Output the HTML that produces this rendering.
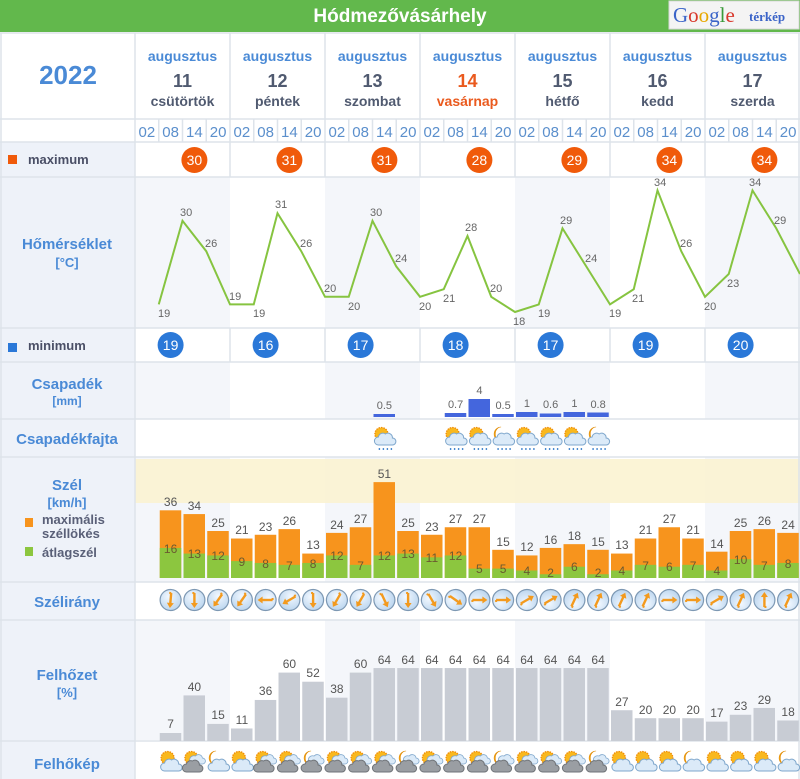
<!DOCTYPE html>
<html><head><meta charset="utf-8"><style>
html,body{margin:0;padding:0;background:#fff}
svg{display:block;font-family:"Liberation Sans",sans-serif}
</style></head><body>
<svg width="800" height="779" viewBox="0 0 800 779" xmlns="http://www.w3.org/2000/svg">
<defs>
<symbol id="sun" viewBox="-11 -11 22 22" overflow="visible"><circle cx="-3" cy="-4" r="6.5" fill="#f9b81e" stroke="#ef8c07" stroke-width="1.3" stroke-dasharray="1.5 1"/></symbol>
<g id="sunc"><circle cx="-3" cy="-4" r="6.5" fill="#f9b81e" stroke="#ef8c07" stroke-width="1.3" stroke-dasharray="1.5 1"/></g>
<g id="moon"><path d="M-2,-11 A7,7 0 1 0 -2,3 A5,6 0 0 1 -2,-11Z" fill="#f5a81c" stroke="#e08a00" stroke-width="0.6"/></g>
<g id="wcloud"><path d="M-6,9 h14 a3.5,3.5 0 0 0 0,-7 a4.5,4.5 0 0 0 -7,-4 a4.5,4.5 0 0 0 -7,3 a4,4 0 0 0 0,8z" fill="#dbeaf8" stroke="#7fa7cc" stroke-width="1"/></g>
<g id="dcloud"><path d="M-2,2 h10 a3,3 0 0 0 0,-6 a4,4 0 0 0 -7,-2 a3,3 0 0 0 -3,8z" fill="#dbeaf8" stroke="#7fa7cc" stroke-width="0.8"/><path d="M-8,10 h13 a3.5,3.5 0 0 0 0,-7 a4.5,4.5 0 0 0 -7,-4 a4.5,4.5 0 0 0 -6,3 a4,4 0 0 0 0,8z" fill="#9a9ea3" stroke="#6f7378" stroke-width="1"/></g>
<g id="rain"><path d="M-5,11 v2 M-1,11 v2 M3,11 v2 M7,11 v2" stroke="#4a8ad0" stroke-width="1.4"/></g>
<g id="S"><use href="#sunc"/><use href="#wcloud"/></g>
<g id="SD"><use href="#sunc"/><use href="#dcloud"/></g>
<g id="M"><use href="#moon"/><use href="#wcloud"/></g>
<g id="MD"><use href="#moon"/><use href="#dcloud"/></g>
<g id="SR"><use href="#sunc"/><use href="#wcloud" transform="translate(0,-2)"/><use href="#rain" transform="translate(0,-1)"/></g>
<g id="MR"><use href="#moon"/><use href="#wcloud" transform="translate(0,-2)"/><use href="#rain" transform="translate(0,-1)"/></g>
<radialGradient id="wg" cx="0.4" cy="0.35" r="0.7"><stop offset="0" stop-color="#f2f8ff"/><stop offset="1" stop-color="#b9d4ee"/></radialGradient>
<g id="wd"><circle r="10.5" fill="url(#wg)" stroke="#7d98b3" stroke-width="1.2"/><path d="M0,-7 V5" stroke="#f39a1e" stroke-width="2.4"/><path d="M-3.5,3 L0,8 L3.5,3Z" fill="#f39a1e"/><path d="M-2,-7 h2" stroke="#f39a1e" stroke-width="2"/></g>
</defs>

<!-- title -->
<rect x="0" y="0" width="800" height="32" fill="#62b84c"/>
<text x="400" y="22" font-size="19" font-weight="bold" fill="#fff" text-anchor="middle">Hódmezővásárhely</text>
<rect x="669" y="1" width="130" height="28" fill="#f4f4f4" stroke="#d8d8d8"/>
<text x="673" y="22" font-family="Liberation Serif,serif" font-size="21"><tspan fill="#3b64c8">G</tspan><tspan fill="#d8382c">o</tspan><tspan fill="#e8a800">o</tspan><tspan fill="#3b64c8">g</tspan><tspan fill="#3a9a3a">l</tspan><tspan fill="#d8382c">e</tspan></text>
<text x="749" y="21" font-family="Liberation Serif,serif" font-size="13" font-weight="bold" fill="#3b64c8">térkép</text>

<!-- left column bg -->
<rect x="0" y="142" width="135" height="637" fill="#eef2f9"/>
<!-- shaded day columns -->
<g fill="#f4f6fa">
<rect x="135" y="177" width="95" height="151"/><rect x="325" y="177" width="95" height="151"/><rect x="515" y="177" width="95" height="151"/><rect x="705" y="177" width="95" height="151"/>
<rect x="135" y="362" width="95" height="57"/><rect x="325" y="362" width="95" height="57"/><rect x="515" y="362" width="95" height="57"/><rect x="705" y="362" width="95" height="57"/>
<rect x="135" y="457" width="95" height="125"/><rect x="325" y="457" width="95" height="125"/><rect x="515" y="457" width="95" height="125"/><rect x="705" y="457" width="95" height="125"/>
<rect x="135" y="620" width="95" height="120"/><rect x="325" y="620" width="95" height="120"/><rect x="515" y="620" width="95" height="120"/><rect x="705" y="620" width="95" height="120"/>
</g>
<rect x="135" y="459" width="665" height="44" fill="#faf2cf" opacity="0.85"/>

<!-- grid lines -->
<g stroke="#dde3ea" stroke-width="1.5">
<path d="M0,33H800M0,119H800M0,142H800M0,177H800M0,328H800M0,362H800M0,419H800M0,457H800M0,582H800M0,620H800M0,741H800"/>
<path d="M1,33V779M135,33V779M230,33V177M325,33V177M420,33V177M515,33V177M610,33V177M705,33V177M799,33V779"/>
<path d="M230,328V362M325,328V362M420,328V362M515,328V362M610,328V362M705,328V362"/>
<path d="M158.75,119V142M182.5,119V142M206.25,119V142M253.75,119V142M277.5,119V142M301.25,119V142M348.75,119V142M372.5,119V142M396.25,119V142M443.75,119V142M467.5,119V142M491.25,119V142M538.75,119V142M562.5,119V142M586.25,119V142M633.75,119V142M657.5,119V142M681.25,119V142M728.75,119V142M752.5,119V142M776.25,119V142"/>
</g>

<!-- header -->
<text x="68" y="84" font-size="26" font-weight="bold" fill="#4a8ad6" text-anchor="middle">2022</text>
<g font-weight="bold" text-anchor="middle">
<g font-size="14" fill="#4a8ad6">
<text x="182.5" y="61">augusztus</text><text x="277.5" y="61">augusztus</text><text x="372.5" y="61">augusztus</text><text x="467.5" y="61">augusztus</text><text x="562.5" y="61">augusztus</text><text x="657.5" y="61">augusztus</text><text x="752.5" y="61">augusztus</text>
</g>
<g font-size="18" fill="#505a70">
<text x="182.5" y="87">11</text><text x="277.5" y="87">12</text><text x="372.5" y="87">13</text><text x="467.5" y="87" fill="#ea5a1e">14</text><text x="562.5" y="87">15</text><text x="657.5" y="87">16</text><text x="752.5" y="87">17</text>
</g>
<g font-size="14" fill="#505a70">
<text x="182.5" y="106">csütörtök</text><text x="277.5" y="106">péntek</text><text x="372.5" y="106">szombat</text><text x="467.5" y="106" fill="#ea5a1e">vasárnap</text><text x="562.5" y="106">hétfő</text><text x="657.5" y="106">kedd</text><text x="752.5" y="106">szerda</text>
</g>
</g>
<g font-size="15" fill="#5b8fcc" text-anchor="middle">
<text x="146.9" y="137">02</text><text x="170.6" y="137">08</text><text x="194.4" y="137">14</text><text x="218.1" y="137">20</text>
<text x="241.9" y="137">02</text><text x="265.6" y="137">08</text><text x="289.4" y="137">14</text><text x="313.1" y="137">20</text>
<text x="336.9" y="137">02</text><text x="360.6" y="137">08</text><text x="384.4" y="137">14</text><text x="408.1" y="137">20</text>
<text x="431.9" y="137">02</text><text x="455.6" y="137">08</text><text x="479.4" y="137">14</text><text x="503.1" y="137">20</text>
<text x="526.9" y="137">02</text><text x="550.6" y="137">08</text><text x="574.4" y="137">14</text><text x="598.1" y="137">20</text>
<text x="621.9" y="137">02</text><text x="645.6" y="137">08</text><text x="669.4" y="137">14</text><text x="693.1" y="137">20</text>
<text x="716.9" y="137">02</text><text x="740.6" y="137">08</text><text x="764.4" y="137">14</text><text x="788.1" y="137">20</text>
</g>

<!-- left labels -->
<rect x="8" y="155" width="9" height="9" fill="#f05a0a"/>
<text x="28" y="164" font-size="13" font-weight="bold" fill="#4a4f66">maximum</text>
<rect x="8" y="343" width="9" height="9" fill="#2a78d8"/>
<text x="28" y="350" font-size="13" font-weight="bold" fill="#4a4f66">minimum</text>
<g font-weight="bold" fill="#4a8ad6" text-anchor="middle">
<text x="67" y="249" font-size="15">Hőmérséklet</text><text x="67" y="267" font-size="13">[°C]</text>
<text x="67" y="389" font-size="15">Csapadék</text><text x="67" y="405" font-size="12">[mm]</text>
<text x="67" y="444" font-size="15">Csapadékfajta</text>
<text x="67" y="490" font-size="15">Szél</text><text x="67" y="507" font-size="13">[km/h]</text>
<text x="67" y="607" font-size="15">Szélirány</text>
<text x="67" y="680" font-size="15">Felhőzet</text><text x="67" y="697" font-size="13">[%]</text>
<text x="67" y="769" font-size="15">Felhőkép</text>
</g>
<rect x="25" y="518" width="8" height="9" fill="#f7941d"/>
<rect x="25" y="547" width="8" height="9" fill="#8cc63f"/>
<g font-size="13" font-weight="bold" fill="#5a6078">
<text x="42" y="524">maximális</text><text x="42" y="538">széllökés</text><text x="42" y="557">átlagszél</text>
</g>

<!-- max/min circles -->
<g fill="#f05a0a"><circle cx="194.4" cy="160" r="13"/><circle cx="289.4" cy="160" r="13"/><circle cx="384.4" cy="160" r="13"/><circle cx="479.4" cy="160" r="13"/><circle cx="574.4" cy="160" r="13"/><circle cx="669.4" cy="160" r="13"/><circle cx="764.4" cy="160" r="13"/></g>
<g fill="#2a78d8"><circle cx="170.6" cy="345" r="13"/><circle cx="265.6" cy="345" r="13"/><circle cx="360.6" cy="345" r="13"/><circle cx="455.6" cy="345" r="13"/><circle cx="550.6" cy="345" r="13"/><circle cx="645.6" cy="345" r="13"/><circle cx="740.6" cy="345" r="13"/></g>
<g font-size="14" fill="#fff" text-anchor="middle">
<text x="194.4" y="165">30</text><text x="289.4" y="165">31</text><text x="384.4" y="165">31</text><text x="479.4" y="165">28</text><text x="574.4" y="165">29</text><text x="669.4" y="165">34</text><text x="764.4" y="165">34</text>
<text x="170.6" y="350">19</text><text x="265.6" y="350">16</text><text x="360.6" y="350">17</text><text x="455.6" y="350">18</text><text x="550.6" y="350">17</text><text x="645.6" y="350">19</text><text x="740.6" y="350">20</text>
</g>

<!-- temperature line -->
<polyline fill="none" stroke="#86c440" stroke-width="2" points="158.75,304.4 182.5,220.8 206.25,251.2 230,304.4 253.75,304.4 277.5,213.2 301.25,251.2 325,296.8 348.75,296.8 372.5,220.8 396.25,266.4 420,296.8 443.75,289.2 467.5,236 491.25,296.8 515,312 538.75,304.4 562.5,228.4 586.25,266.4 610,304.4 633.75,289.2 657.5,190.4 681.25,251.2 705,296.8 728.75,274 752.5,190.4 776.25,228.4 800,274"/>
<g font-size="11" fill="#666">
<text x="158" y="317">19</text><text x="180" y="216">30</text><text x="205" y="247">26</text><text x="229" y="300">19</text><text x="253" y="317">19</text><text x="275" y="208">31</text><text x="300" y="247">26</text><text x="324" y="292">20</text><text x="348" y="310">20</text><text x="370" y="216">30</text><text x="395" y="262">24</text><text x="419" y="310">20</text><text x="443" y="302">21</text><text x="465" y="231">28</text><text x="490" y="292">20</text><text x="513" y="325">18</text><text x="538" y="317">19</text><text x="560" y="224">29</text><text x="585" y="262">24</text><text x="609" y="317">19</text><text x="632" y="302">21</text><text x="654" y="186">34</text><text x="680" y="247">26</text><text x="704" y="310">20</text><text x="727" y="287">23</text><text x="749" y="186">34</text><text x="774" y="224">29</text>
</g>

<!-- precipitation -->
<g fill="#4466dd">
<rect x="373.5" y="414" width="21.5" height="3"/>
<rect x="444.75" y="413" width="21.5" height="4"/>
<rect x="468.5" y="399" width="21.5" height="18"/>
<rect x="492.25" y="414" width="21.5" height="3"/>
<rect x="516" y="412" width="21.5" height="5"/>
<rect x="539.75" y="413.5" width="21.5" height="3.5"/>
<rect x="563.5" y="412" width="21.5" height="5"/>
<rect x="587.25" y="412.5" width="21.5" height="4.5"/>
</g>
<g font-size="11" fill="#666" text-anchor="middle">
<text x="384.4" y="409">0.5</text><text x="455.6" y="408">0.7</text><text x="479.4" y="394">4</text><text x="503.1" y="409">0.5</text><text x="526.9" y="407">1</text><text x="550.6" y="408">0.6</text><text x="574.4" y="407">1</text><text x="598.1" y="408">0.8</text>
</g>
<use href="#SR" x="384.4" y="438"/><use href="#SR" x="455.6" y="438"/><use href="#SR" x="479.4" y="438"/><use href="#MR" x="503.1" y="438"/><use href="#SR" x="526.9" y="438"/><use href="#SR" x="550.6" y="438"/><use href="#SR" x="574.4" y="438"/><use href="#MR" x="598.1" y="438"/>

<!-- wind bars -->
<g transform="translate(0,578) scale(1,-1.88)">
<g fill="#f7941d">
<rect x="159.75" y="0" width="21.5" height="36"/><rect x="183.5" y="0" width="21.5" height="34"/><rect x="207.25" y="0" width="21.5" height="25"/><rect x="231" y="0" width="21.5" height="21"/><rect x="254.75" y="0" width="21.5" height="23"/><rect x="278.5" y="0" width="21.5" height="26"/><rect x="302.25" y="0" width="21.5" height="13"/><rect x="326" y="0" width="21.5" height="24"/><rect x="349.75" y="0" width="21.5" height="27"/><rect x="373.5" y="0" width="21.5" height="51"/><rect x="397.25" y="0" width="21.5" height="25"/><rect x="421" y="0" width="21.5" height="23"/><rect x="444.75" y="0" width="21.5" height="27"/><rect x="468.5" y="0" width="21.5" height="27"/><rect x="492.25" y="0" width="21.5" height="15"/><rect x="516" y="0" width="21.5" height="12"/><rect x="539.75" y="0" width="21.5" height="16"/><rect x="563.5" y="0" width="21.5" height="18"/><rect x="587.25" y="0" width="21.5" height="15"/><rect x="611" y="0" width="21.5" height="13"/><rect x="634.75" y="0" width="21.5" height="21"/><rect x="658.5" y="0" width="21.5" height="27"/><rect x="682.25" y="0" width="21.5" height="21"/><rect x="706" y="0" width="21.5" height="14"/><rect x="729.75" y="0" width="21.5" height="25"/><rect x="753.5" y="0" width="21.5" height="26"/><rect x="777.25" y="0" width="21.5" height="24"/>
</g>
<g fill="#8cc63f">
<rect x="159.75" y="0" width="21.5" height="16"/><rect x="183.5" y="0" width="21.5" height="13"/><rect x="207.25" y="0" width="21.5" height="12"/><rect x="231" y="0" width="21.5" height="9"/><rect x="254.75" y="0" width="21.5" height="8"/><rect x="278.5" y="0" width="21.5" height="7"/><rect x="302.25" y="0" width="21.5" height="8"/><rect x="326" y="0" width="21.5" height="12"/><rect x="349.75" y="0" width="21.5" height="7"/><rect x="373.5" y="0" width="21.5" height="12"/><rect x="397.25" y="0" width="21.5" height="13"/><rect x="421" y="0" width="21.5" height="11"/><rect x="444.75" y="0" width="21.5" height="12"/><rect x="468.5" y="0" width="21.5" height="5"/><rect x="492.25" y="0" width="21.5" height="5"/><rect x="516" y="0" width="21.5" height="4"/><rect x="539.75" y="0" width="21.5" height="2"/><rect x="563.5" y="0" width="21.5" height="6"/><rect x="587.25" y="0" width="21.5" height="2"/><rect x="611" y="0" width="21.5" height="4"/><rect x="634.75" y="0" width="21.5" height="7"/><rect x="658.5" y="0" width="21.5" height="6"/><rect x="682.25" y="0" width="21.5" height="7"/><rect x="706" y="0" width="21.5" height="4"/><rect x="729.75" y="0" width="21.5" height="10"/><rect x="753.5" y="0" width="21.5" height="7"/><rect x="777.25" y="0" width="21.5" height="8"/>
</g>
</g>
<g font-size="12" fill="#555" text-anchor="middle">
<text x="170.6" y="506">36</text><text x="194.4" y="510">34</text><text x="218.1" y="527">25</text><text x="241.9" y="534">21</text><text x="265.6" y="531">23</text><text x="289.4" y="525">26</text><text x="313.1" y="549">13</text><text x="336.9" y="529">24</text><text x="360.6" y="523">27</text><text x="384.4" y="478">51</text><text x="408.1" y="527">25</text><text x="431.9" y="531">23</text><text x="455.6" y="523">27</text><text x="479.4" y="523">27</text><text x="503.1" y="546">15</text><text x="526.9" y="551">12</text><text x="550.6" y="544">16</text><text x="574.4" y="540">18</text><text x="598.1" y="546">15</text><text x="621.9" y="549">13</text><text x="645.6" y="534">21</text><text x="669.4" y="523">27</text><text x="693.1" y="534">21</text><text x="716.9" y="548">14</text><text x="740.6" y="527">25</text><text x="764.4" y="525">26</text><text x="788.1" y="529">24</text>
</g>
<g font-size="12" fill="#6a5a30" text-anchor="middle">
<text x="170.6" y="553">16</text><text x="194.4" y="558">13</text><text x="218.1" y="560">12</text><text x="241.9" y="566">9</text><text x="265.6" y="568">8</text><text x="289.4" y="570">7</text><text x="313.1" y="568">8</text><text x="336.9" y="560">12</text><text x="360.6" y="570">7</text><text x="384.4" y="560">12</text><text x="408.1" y="558">13</text><text x="431.9" y="562">11</text><text x="455.6" y="560">12</text><text x="479.4" y="573">5</text><text x="503.1" y="573">5</text><text x="526.9" y="575">4</text><text x="550.6" y="577">2</text><text x="574.4" y="571">6</text><text x="598.1" y="577">2</text><text x="621.9" y="575">4</text><text x="645.6" y="570">7</text><text x="669.4" y="571">6</text><text x="693.1" y="570">7</text><text x="716.9" y="575">4</text><text x="740.6" y="564">10</text><text x="764.4" y="570">7</text><text x="788.1" y="568">8</text>
</g>

<!-- wind direction -->
<use href="#wd" transform="translate(170.6,600) rotate(5)"/><use href="#wd" transform="translate(194.4,600) rotate(0)"/><use href="#wd" transform="translate(218.1,600) rotate(35)"/><use href="#wd" transform="translate(241.9,600) rotate(35)"/><use href="#wd" transform="translate(265.6,600) rotate(90)"/><use href="#wd" transform="translate(289.4,600) rotate(60)"/><use href="#wd" transform="translate(313.1,600) rotate(0)"/><use href="#wd" transform="translate(336.9,600) rotate(30)"/><use href="#wd" transform="translate(360.6,600) rotate(30)"/><use href="#wd" transform="translate(384.4,600) rotate(-25)"/><use href="#wd" transform="translate(408.1,600) rotate(0)"/><use href="#wd" transform="translate(431.9,600) rotate(-30)"/><use href="#wd" transform="translate(455.6,600) rotate(-55)"/><use href="#wd" transform="translate(479.4,600) rotate(-90)"/><use href="#wd" transform="translate(503.1,600) rotate(-90)"/><use href="#wd" transform="translate(526.9,600) rotate(-120)"/><use href="#wd" transform="translate(550.6,600) rotate(-120)"/><use href="#wd" transform="translate(574.4,600) rotate(-155)"/><use href="#wd" transform="translate(598.1,600) rotate(-155)"/><use href="#wd" transform="translate(621.9,600) rotate(-155)"/><use href="#wd" transform="translate(645.6,600) rotate(-155)"/><use href="#wd" transform="translate(669.4,600) rotate(-90)"/><use href="#wd" transform="translate(693.1,600) rotate(-90)"/><use href="#wd" transform="translate(716.9,600) rotate(-120)"/><use href="#wd" transform="translate(740.6,600) rotate(-155)"/><use href="#wd" transform="translate(764.4,600) rotate(180)"/><use href="#wd" transform="translate(788.1,600) rotate(-155)"/>

<!-- clouds -->
<g transform="translate(0,741) scale(1,-1.14)" fill="#c8ccd4">
<rect x="159.75" y="0" width="21.5" height="7"/><rect x="183.5" y="0" width="21.5" height="40"/><rect x="207.25" y="0" width="21.5" height="15"/><rect x="231" y="0" width="21.5" height="11"/><rect x="254.75" y="0" width="21.5" height="36"/><rect x="278.5" y="0" width="21.5" height="60"/><rect x="302.25" y="0" width="21.5" height="52"/><rect x="326" y="0" width="21.5" height="38"/><rect x="349.75" y="0" width="21.5" height="60"/><rect x="373.5" y="0" width="21.5" height="64"/><rect x="397.25" y="0" width="21.5" height="64"/><rect x="421" y="0" width="21.5" height="64"/><rect x="444.75" y="0" width="21.5" height="64"/><rect x="468.5" y="0" width="21.5" height="64"/><rect x="492.25" y="0" width="21.5" height="64"/><rect x="516" y="0" width="21.5" height="64"/><rect x="539.75" y="0" width="21.5" height="64"/><rect x="563.5" y="0" width="21.5" height="64"/><rect x="587.25" y="0" width="21.5" height="64"/><rect x="611" y="0" width="21.5" height="27"/><rect x="634.75" y="0" width="21.5" height="20"/><rect x="658.5" y="0" width="21.5" height="20"/><rect x="682.25" y="0" width="21.5" height="20"/><rect x="706" y="0" width="21.5" height="17"/><rect x="729.75" y="0" width="21.5" height="23"/><rect x="753.5" y="0" width="21.5" height="29"/><rect x="777.25" y="0" width="21.5" height="18"/>
</g>
<g font-size="12" fill="#555" text-anchor="middle">
<text x="170.6" y="728">7</text><text x="194.4" y="691">40</text><text x="218.1" y="719">15</text><text x="241.9" y="724">11</text><text x="265.6" y="695">36</text><text x="289.4" y="668">60</text><text x="313.1" y="677">52</text><text x="336.9" y="693">38</text><text x="360.6" y="668">60</text><text x="384.4" y="664">64</text><text x="408.1" y="664">64</text><text x="431.9" y="664">64</text><text x="455.6" y="664">64</text><text x="479.4" y="664">64</text><text x="503.1" y="664">64</text><text x="526.9" y="664">64</text><text x="550.6" y="664">64</text><text x="574.4" y="664">64</text><text x="598.1" y="664">64</text><text x="621.9" y="706">27</text><text x="645.6" y="714">20</text><text x="669.4" y="714">20</text><text x="693.1" y="714">20</text><text x="716.9" y="717">17</text><text x="740.6" y="710">23</text><text x="764.4" y="704">29</text><text x="788.1" y="716">18</text>
</g>

<!-- cloud pictures -->
<use href="#S" x="170.6" y="762"/><use href="#SD" x="194.4" y="762"/><use href="#M" x="218.1" y="762"/><use href="#S" x="241.9" y="762"/><use href="#SD" x="265.6" y="762"/><use href="#SD" x="289.4" y="762"/><use href="#MD" x="313.1" y="762"/><use href="#SD" x="336.9" y="762"/><use href="#SD" x="360.6" y="762"/><use href="#SD" x="384.4" y="762"/><use href="#MD" x="408.1" y="762"/><use href="#SD" x="431.9" y="762"/><use href="#SD" x="455.6" y="762"/><use href="#SD" x="479.4" y="762"/><use href="#MD" x="503.1" y="762"/><use href="#SD" x="526.9" y="762"/><use href="#SD" x="550.6" y="762"/><use href="#SD" x="574.4" y="762"/><use href="#MD" x="598.1" y="762"/><use href="#S" x="621.9" y="762"/><use href="#S" x="645.6" y="762"/><use href="#S" x="669.4" y="762"/><use href="#M" x="693.1" y="762"/><use href="#S" x="716.9" y="762"/><use href="#S" x="740.6" y="762"/><use href="#S" x="764.4" y="762"/><use href="#M" x="788.1" y="762"/>
</svg>
</body></html>
